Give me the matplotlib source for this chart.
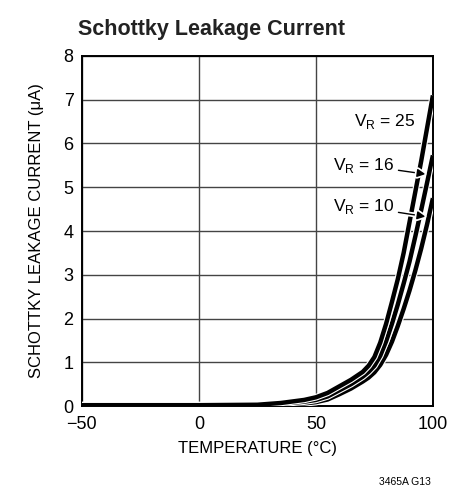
import matplotlib
matplotlib.use("Agg")
import matplotlib.pyplot as plt
import matplotlib.patheffects as pe

# temperature (degC) and leakage current (uA)
temp = [-50, 0, 25, 35, 45, 50, 55, 60, 65, 70, 72.5, 75, 77.5, 80, 82.5, 85, 87.5, 90, 92.5, 95, 97.5, 100]
i_vr25 = [0.02, 0.02, 0.03, 0.07, 0.14, 0.2, 0.3, 0.45, 0.6, 0.78, 0.92, 1.12, 1.45, 1.88, 2.38, 2.9, 3.5, 4.2, 4.9, 5.6, 6.35, 7.1]
i_vr16 = [0.02, 0.02, 0.025, 0.05, 0.1, 0.14, 0.22, 0.36, 0.5, 0.67, 0.78, 0.92, 1.15, 1.48, 1.88, 2.32, 2.8, 3.3, 3.88, 4.48, 5.1, 5.73]
i_vr10 = [0.02, 0.02, 0.02, 0.035, 0.06, 0.09, 0.15, 0.27, 0.4, 0.56, 0.65, 0.77, 0.94, 1.17, 1.47, 1.83, 2.22, 2.64, 3.1, 3.6, 4.15, 4.75]

x_ticks = [-50, 0, 50, 100]
y_ticks = [0, 1, 2, 3, 4, 5, 6, 7, 8]

plt.rcParams['font.family'] = ['Liberation Sans', 'DejaVu Sans']

fig = plt.figure(figsize=(4.5, 4.91), dpi=100)
ax = fig.add_axes([0.182, 0.173, 0.78, 0.713])

outline = [pe.Stroke(linewidth=4.8, foreground='white'), pe.Normal()]
for vals in (i_vr10, i_vr16, i_vr25):
    ax.plot(temp, vals, color='black', linewidth=3.2, solid_capstyle='butt',
            path_effects=outline, zorder=3)

ax.set_xlim(-50, 100)
ax.set_ylim(0, 8)
ax.set_xticks(x_ticks)
ax.set_yticks(y_ticks)
ax.set_xticklabels(['\u221250', '0', '50', '100'])
ax.tick_params(length=0, labelsize=13)
ax.tick_params(axis='x', pad=7)
ax.tick_params(axis='y', pad=6)
ax.grid(True, color='#444444', linewidth=1.0)
ax.set_axisbelow(True)
for s in ax.spines.values():
    s.set_linewidth(1.4)

ax.set_xlabel('TEMPERATURE (\u00b0C)', fontsize=12, labelpad=6)
ax.set_ylabel('SCHOTTKY LEAKAGE CURRENT (\u03bcA)', fontsize=12, labelpad=14)

fig.text(0.173, 0.940, 'Schottky Leakage Current', fontsize=15.5, fontweight='bold',
         ha='left', va='center', color='#222222')
fig.text(0.958, 0.018, '3465A G13', fontsize=7.5, ha='right', va='center')

# labels with arrows
ax.text(92.7, 6.5, 'V$_\\mathregular{R}$ = 25', fontsize=12.5, ha='right', va='center', zorder=5)
arrow_fx = [pe.Stroke(linewidth=3.5, foreground='white'), pe.Normal()]
ax.annotate('V$_\\mathregular{R}$ = 16', xy=(96.8, 5.3), xytext=(83.5, 5.5),
            fontsize=12.5, ha='right', va='center', zorder=5,
            arrowprops=dict(arrowstyle='-|>', color='black', lw=1.0,
                            mutation_scale=12, shrinkA=1, shrinkB=0,
                            path_effects=arrow_fx))
ax.annotate('V$_\\mathregular{R}$ = 10', xy=(96.8, 4.33), xytext=(83.5, 4.55),
            fontsize=12.5, ha='right', va='center', zorder=5,
            arrowprops=dict(arrowstyle='-|>', color='black', lw=1.0,
                            mutation_scale=12, shrinkA=1, shrinkB=0,
                            path_effects=arrow_fx))

fig.savefig('out.png', dpi=100)
